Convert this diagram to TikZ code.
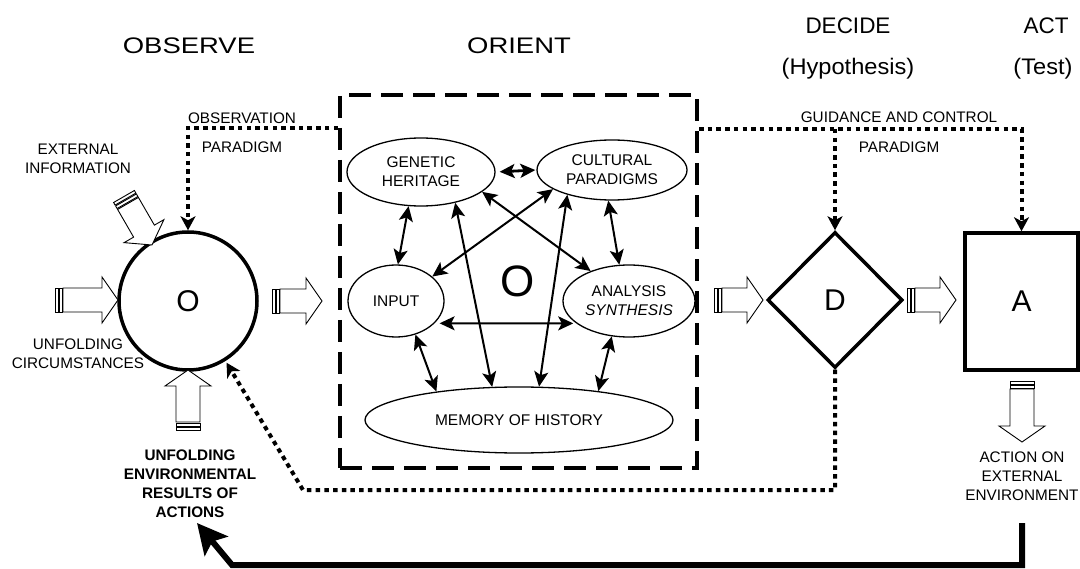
\documentclass[tikz,border=0pt]{standalone}
\usepackage{fontspec}
\usepackage{graphicx}
\setmainfont{Liberation Sans}
\usetikzlibrary{arrows.meta,shapes.geometric,calc}
\newcommand{\blockarr}[3]{%
  \begin{scope}[shift={#1}, rotate=#2]
    \draw[line width=0.9pt, fill=white] (0,0) -- (-16,23) -- (-16,12) -- ({-16-#3},12) -- ({-16-#3},-12) -- (-16,-12) -- (-16,-23) -- cycle;
    \draw[line width=0.9pt] ({-16-#3-4},-12) rectangle ({-16-#3-1},12);
    \draw[line width=0.9pt] ({-16-#3-8},-12) rectangle ({-16-#3-5},12);
  \end{scope}}
\begin{document}
\begin{tikzpicture}[x=1pt,y=-1pt,
  lbl/.style={font=\fontsize{15.3}{19}\selectfont, align=center, inner sep=0pt},
  lblb/.style={font=\fontsize{15.3}{19}\selectfont\bfseries, align=center, inner sep=0pt},
  toplbl/.style={font=\fontsize{22.5}{26}\selectfont, inner sep=0pt},
  ell/.style={ellipse, draw, line width=1.3pt, inner sep=0pt, align=center, font=\fontsize{15.5}{19}\selectfont},
  big/.style={font=\fontsize{30}{30}\selectfont},
  link/.style={line width=2pt, {Stealth[length=15pt,width=14pt,inset=3.5pt]}-{Stealth[length=15pt,width=14pt,inset=3.5pt]}},
  para/.style={line width=4pt, dash pattern=on 4.5pt off 4.2pt, -{Stealth[length=14pt,width=15pt,inset=4pt]}},
  thickbox/.style={draw, line width=3.5pt},
]
\useasboundingbox (0,0) rectangle (1080,569);

% top labels
\node[toplbl] (tobs) at (189,46) {\scalebox{1.22}[1]{OBSERVE}};
\node[toplbl] (tori) at (519,46) {\scalebox{1.22}[1]{ORIENT}};
\node[toplbl] (tdec) at (848,26) {DECIDE};
\node[toplbl] (thyp) at (848,69) {\scalebox{1.05}[1]{(Hypothesis)}};
\node[toplbl] (tact) at (1046,26) {ACT};
\node[toplbl] (ttst) at (1043,69) {\scalebox{1.05}[1]{(Test)}};

% observe
\node[circle, thickbox, minimum size=138pt, inner sep=0pt, big] (obs) at (188,301) {O};
\node[lbl] (extinfo) at (78,159) {EXTERNAL\\INFORMATION};
\node[lbl] (unfc) at (78,354) {UNFOLDING\\CIRCUMSTANCES};
\node[lblb] (unfe) at (190,484) {UNFOLDING\\ENVIRONMENTAL\\RESULTS OF\\ACTIONS};

% orient box
\node[draw, line width=4pt, dash pattern=on 22pt off 10pt, minimum width=357pt, minimum height=373pt, inner sep=0pt] (orient) at (518.5,281.5) {};
\node[font=\fontsize{44}{44}\selectfont, inner sep=0pt] (bigo) at (518,281) {O};
\node[ell, minimum width=148pt, minimum height=68pt] (gh) at (421,172) {GENETIC\\HERITAGE};
\node[ell, minimum width=150pt, minimum height=60pt] (cp) at (612,170) {CULTURAL\\PARADIGMS};
\node[ell, minimum width=96pt, minimum height=72pt] (in) at (396,301) {INPUT};
\node[ell, minimum width=132pt, minimum height=72pt] (an) at (629,301) {ANALYSIS\\\itshape SYNTHESIS};
\node[ell, minimum width=308pt, minimum height=66pt] (mem) at (519,420) {MEMORY OF HISTORY};

\draw[link, line width=2.8pt, shorten <=4pt, shorten >=1pt] (gh.east) -- (cp.west);
\draw[link] (gh.250) -- (in.87);
\draw[link] (gh.-42) -- (mem.129);
\draw[link] (gh.-18) -- (an.142);
\draw[link] (cp.198) -- (in.34);
\draw[link] (cp.209) -- (mem.59);
\draw[link] (cp.-97) -- (an.105);
\draw[link, shorten <=5pt, shorten >=3pt] (in.-30) -- (an.203);
\draw[link] (in.-60) -- (mem.161);
\draw[link] (an.-116) -- (mem.20);

% decide & act
\node[diamond, thickbox, minimum width=135pt, minimum height=136pt, inner sep=0pt, big] (d) at (835,300) {D};
\node[thickbox, minimum width=113pt, minimum height=137pt, inner sep=0pt, big] (a) at (1021.5,301.5) {A};
\node[lbl] (actlbl) at (1022,476) {ACTION ON\\EXTERNAL\\ENVIRONMENT};

% paradigm labels
\node[lbl] (obsp1) at (242,118) {OBSERVATION};
\node[lbl] (obsp2) at (242,147) {PARADIGM};
\node[lbl] (gc1) at (899,117) {GUIDANCE AND CONTROL};
\node[lbl] (gc2) at (899,147) {PARADIGM};

% dotted paradigm lines
\coordinate (opS) at ($(orient.north west)+(0,35)$);
\coordinate (gS) at ($(orient.north east)+(0,36)$);
\draw[para] (opS) -| (obs.north);
\draw[para] (gS) -| (a.north);
\draw[para] (d.north |- gS) -- (d.north);
\coordinate (fb1) at (835,490);
\coordinate (fb2) at (303,490);
\draw[para, shorten >=2pt] (d.south) -- (fb1) -- (fb2) -- (obs.-58);

% block arrows
\blockarr{(118,300)}{0}{39}
\blockarr{(322,301)}{0}{26}
\blockarr{(763,300)}{0}{25}
\blockarr{(956,300)}{0}{25}
\blockarr{(1022,442)}{-90}{37}
\blockarr{(188,370)}{90}{36}
\blockarr{(152,245)}{-60}{32}

% bottom feedback arrow
\coordinate (bA) at (1022,523);
\coordinate (bC1) at (1022,565);
\coordinate (bC2) at (232,565);
\coordinate (bB) at (197,523);
\draw[line width=6pt, line join=miter, -{Stealth[length=30pt,width=30pt,inset=6pt]}] (bA) -- (bC1) -- (bC2) -- (bB);
\end{tikzpicture}
\end{document}
